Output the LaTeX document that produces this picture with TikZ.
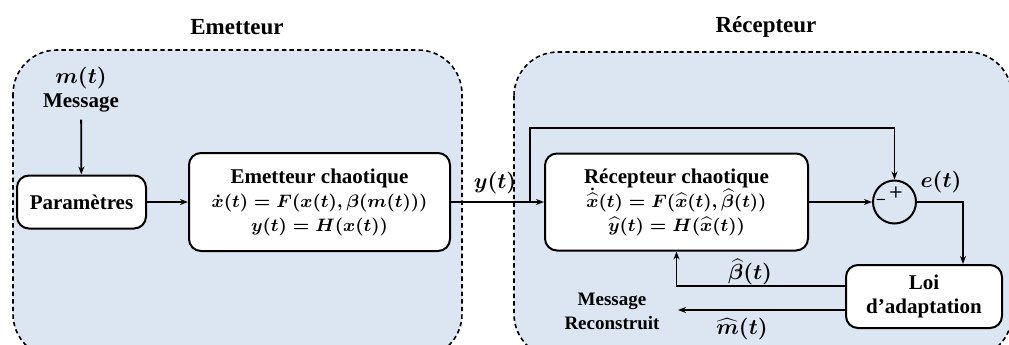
\documentclass[tikz,border=0pt]{standalone}
\usepackage{fontspec}
\setmainfont{Liberation Serif}
\usetikzlibrary{positioning,arrows.meta,shapes.geometric}
\definecolor{fondbleu}{RGB}{220,230,242}
\newcommand{\txt}{\fontsize{10.5}{12}\selectfont\bfseries\boldmath}
\newcommand{\txtpetit}{\fontsize{9.5}{12}\selectfont\bfseries\boldmath}
\newcommand{\titre}{\fontsize{11.5}{14}\selectfont\bfseries}
\newcommand{\formule}[1]{{\fontsize{9.4}{12}\selectfont$#1$}}
\tikzset{
    % standard arrow tip
    >={Stealth[length=4pt,width=3pt]},
    % arrow style
    fleche/.style={
           ->,
           line width=0.9pt},
    % blocks
    bloc/.style={
           draw,
           line width=1pt,
           rounded corners=6pt,
           fill=white,
           align=center,
           inner sep=2pt,
           font=\txt},
    somme/.style={
           circle,
           draw,
           line width=1pt,
           minimum size=21.5pt,
           inner sep=0pt},
    % dashed zones
    zone/.style={
           draw,
           dash pattern=on 2.2pt off 1.6pt,
           line width=0.8pt,
           fill=fondbleu,
           rounded corners=22pt},
    lab/.style={font=\txt, align=center}
}
\begin{document}
\begin{tikzpicture}[x=0.5pt,y=-0.5pt]
\useasboundingbox (0,0) rectangle (1009,344);

%%%%%%%%%%%%%%%%%%%%%%%%%%%%%%%%%

% titles
\node [font=\titre] (temet) at (237,27) {Emetteur};
\node [font=\titre] (trecep) at (766,27) {Récepteur};

% emitter zone
\draw [zone] (13,50) rectangle (462,358);
% receiver zone
\draw [zone] (514,52) rectangle (1012,358);

% blocks
\node [bloc, minimum width=64.5pt, minimum height=26.5pt] (params) at (81.5,202) {Paramètres};
\node [bloc, minimum width=130.5pt, minimum height=49pt] (emet) at (319.5,202)
      {Emetteur chaotique\\ \formule{\dot{x}(t)=F(x(t),\beta(m(t)))}\\ \formule{y(t)=H(x(t))}};
\node [bloc, minimum width=131.5pt, minimum height=48.5pt] (recep) at (676.5,202)
      {Récepteur chaotique\\ \formule{\dot{\widehat{x}}(t)=F(\widehat{x}(t),\widehat{\beta}(t))}\\ \formule{\widehat{y}(t)=H(\widehat{x}(t))}};
\node [bloc, minimum width=78pt, minimum height=31.5pt] (loi) at (924,296.5) {Loi\\ d'adaptation};
\node [somme] (som) at (894.5,202) {};
\node [font=\sffamily\bfseries\footnotesize] (plus) at (896,192) {+};
\node [font=\sffamily\bfseries\footnotesize] (moins) at (881,202) {--};

% message input
\node [lab] (msg) at (81,90) {$m(t)$\\ Message};
\draw [fleche] (msg) -- (params);
\draw [fleche] (params) -- (emet);

% transmitted signal
\coordinate (branche) at (530,202);
\coordinate (haut) at (530,128);
\draw [fleche] (emet) -- (recep);
\draw [fleche] (branche) -- (haut) -| (som.north);
\node [lab] (ylab) at (495,183) {$y(t)$};

% error
\draw [fleche] (recep) -- (som);
\coordinate (coin) at (963,202);
\draw [fleche] (som.east) -- (coin) -- (coin |- loi.north);
\node [lab] (elab) at (941,182) {$e(t)$};

% adaptation outputs
\coordinate (bsort) at (846,286);
\draw [fleche] (bsort) -| (recep.south);
\node [lab] (blab) at (750,272) {$\widehat{\beta}(t)$};
\coordinate (msort) at (846,310);
\coordinate (mfin) at (678,310);
\draw [fleche] (msort) -- (mfin);
\node [lab] (mlab) at (742,329) {$\widehat{m}(t)$};
\node [font=\txtpetit, align=center] (recons) at (612,311) {Message\\ Reconstruit};

\end{tikzpicture}
\end{document}
